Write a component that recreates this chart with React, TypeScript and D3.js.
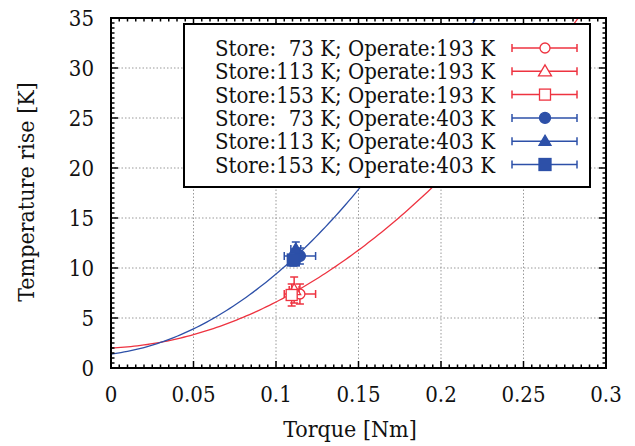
import React, { useEffect, useRef } from 'react';
import * as d3 from 'd3';

// measured points (torque, temperature rise) with error bars
const labels = [
  'Store:  73 K; Operate:193 K',
  'Store:113 K; Operate:193 K',
  'Store:153 K; Operate:193 K',
  'Store:  73 K; Operate:403 K',
  'Store:113 K; Operate:403 K',
  'Store:153 K; Operate:403 K',
];
const torque = [0.1145, 0.111, 0.1095, 0.1145, 0.112, 0.1105];
const torqueErr = [0.0095, 0.003, 0.003, 0.0095, 0.003, 0.003];
const tempRise = [7.4, 7.8, 7.3, 11.2, 11.9, 10.8];
const tempErr = [1.0, 1.3, 1.1, 0.8, 0.7, 0.6];
const shapes = ['circle', 'triangle', 'square', 'circle', 'triangle', 'square'];
const filled = [false, false, false, true, true, true];
const groups = [0, 0, 0, 1, 1, 1];

// fitted curves y = a + b*x + c*x^2 for operate 193 K / 403 K
const fitA = [2.0, 1.4];
const fitB = [7.5, 20.6];
const fitC = [385, 594];

const xTicks = [0, 0.05, 0.1, 0.15, 0.2, 0.25, 0.3];
const yTicks = [0, 5, 10, 15, 20, 25, 30, 35];

const colors = ['#ee3340', '#2d50a8'];
const fontA = "'DejaVu Serif Condensed'";
const fontB = "'DejaVu Serif'";

const App = () => {
  const ref = useRef<SVGSVGElement>(null);

  useEffect(() => {
    const svg = d3.select(ref.current);
    svg.selectAll('*').remove();

    const left = 111, right = 606, top = 18, bottom = 368;
    const x = d3.scaleLinear().domain([0, 0.3]).range([left, right]);
    const y = d3.scaleLinear().domain([0, 35]).range([bottom, top]);

    svg.append('rect').attr('width', 635).attr('height', 446).attr('fill', '#fff');

    const clip = svg.append('defs').append('clipPath').attr('id', 'plotclip');
    clip.append('rect').attr('x', left).attr('y', top).attr('width', right - left).attr('height', bottom - top);

    // grid
    const grid = svg.append('g').attr('stroke', '#999').attr('stroke-width', 1).attr('stroke-dasharray', '1.5 2');
    xTicks.slice(1, -1).forEach(t => {
      grid.append('line').attr('x1', x(t)).attr('x2', x(t)).attr('y1', top).attr('y2', bottom);
    });
    yTicks.slice(1, -1).forEach(t => {
      grid.append('line').attr('x1', left).attr('x2', right).attr('y1', y(t)).attr('y2', y(t));
    });

    // fit curves
    const plot = svg.append('g').attr('clip-path', 'url(#plotclip)');
    [0, 1].forEach(g => {
      const xs = d3.range(0, 0.3001, 0.002);
      const line = d3.line<number>()
        .x(d => x(d))
        .y(d => y(fitA[g] + fitB[g] * d + fitC[g] * d * d));
      plot.append('path').datum(xs).attr('d', line)
        .attr('fill', 'none').attr('stroke', colors[g]).attr('stroke-width', 1.3);
    });

    const drawMarker = (gEl: any, cx: number, cy: number, shape: string, col: string, fill: boolean) => {
      const f = fill ? col : '#fff';
      if (shape === 'circle') {
        gEl.append('circle').attr('cx', cx).attr('cy', cy).attr('r', fill ? 5.5 : 5)
          .attr('fill', f).attr('stroke', col).attr('stroke-width', 1.3);
      } else if (shape === 'triangle') {
        const s = fill ? 6 : 6.5;
        gEl.append('path')
          .attr('d', `M${cx},${cy - s}L${cx + s},${cy + s * 0.7}L${cx - s},${cy + s * 0.7}Z`)
          .attr('fill', f).attr('stroke', col).attr('stroke-width', 1.3);
      } else {
        const s = fill ? 6 : 5.5;
        gEl.append('rect').attr('x', cx - s).attr('y', cy - s).attr('width', 2 * s).attr('height', 2 * s)
          .attr('fill', f).attr('stroke', col).attr('stroke-width', 1.3);
      }
    };

    // data points with error bars
    const pts = svg.append('g');
    torque.forEach((tq, i) => {
      const col = colors[groups[i]];
      const cx = x(tq), cy = y(tempRise[i]);
      const g = pts.append('g').attr('stroke', col).attr('stroke-width', 1.5);
      const x0 = x(tq - torqueErr[i]), x1 = x(tq + torqueErr[i]);
      const y0 = y(tempRise[i] - tempErr[i]), y1 = y(tempRise[i] + tempErr[i]);
      g.append('line').attr('x1', x0).attr('x2', x1).attr('y1', cy).attr('y2', cy);
      g.append('line').attr('x1', x0).attr('x2', x0).attr('y1', cy - 4).attr('y2', cy + 4);
      g.append('line').attr('x1', x1).attr('x2', x1).attr('y1', cy - 4).attr('y2', cy + 4);
      g.append('line').attr('x1', cx).attr('x2', cx).attr('y1', y0).attr('y2', y1);
      g.append('line').attr('x1', cx - 4).attr('x2', cx + 4).attr('y1', y0).attr('y2', y0);
      g.append('line').attr('x1', cx - 4).attr('x2', cx + 4).attr('y1', y1).attr('y2', y1);
      drawMarker(g, cx, cy, shapes[i], col, filled[i]);
    });

    // ticks on all four sides, pointing inward
    const tk = svg.append('g').attr('stroke', '#000').attr('stroke-width', 1.5);
    const xMinor = d3.range(0, 0.3001, 0.005);
    const yMinor = d3.range(0, 35.001, 0.5);
    xMinor.forEach((t, i) => {
      const len = i % 10 === 0 ? 7 : 3.5;
      tk.append('line').attr('x1', x(t)).attr('x2', x(t)).attr('y1', bottom).attr('y2', bottom - len);
      tk.append('line').attr('x1', x(t)).attr('x2', x(t)).attr('y1', top).attr('y2', top + len);
    });
    yMinor.forEach((t, i) => {
      const len = i % 10 === 0 ? 7 : 3.5;
      tk.append('line').attr('x1', left).attr('x2', left + len).attr('y1', y(t)).attr('y2', y(t));
      tk.append('line').attr('x1', right).attr('x2', right - len).attr('y1', y(t)).attr('y2', y(t));
    });

    // frame
    svg.append('rect').attr('x', left).attr('y', top).attr('width', right - left).attr('height', bottom - top)
      .attr('fill', 'none').attr('stroke', '#000').attr('stroke-width', 2);

    // tick labels
    const tl = svg.append('g').style('font-family', fontA).style('font-size', '22px').attr('fill', '#111');
    xTicks.forEach(t => {
      tl.append('text').attr('x', x(t)).attr('y', 402).attr('text-anchor', 'middle').text(String(t));
    });
    yTicks.forEach(t => {
      tl.append('text').attr('x', 94).attr('y', y(t) + 8).attr('text-anchor', 'end').text(String(t));
    });

    // axis titles
    svg.append('text').attr('x', 350).attr('y', 437).attr('text-anchor', 'middle')
      .style('font-family', fontB).style('font-stretch', 'condensed').style('font-size', '23px').attr('fill', '#111').text('Torque [Nm]');
    svg.append('text').attr('transform', 'translate(34,192) rotate(-90)').attr('text-anchor', 'middle')
      .style('font-family', fontB).style('font-stretch', 'condensed').style('font-size', '23px').attr('fill', '#111').text('Temperature rise [K]');

    // legend
    const lg = svg.append('g');
    lg.append('rect').attr('x', 184).attr('y', 24).attr('width', 406).attr('height', 163)
      .attr('fill', '#fff').attr('stroke', '#000').attr('stroke-width', 2);
    labels.forEach((lab, i) => {
      const cy = 48 + i * 23.3;
      lg.append('text').attr('x', 495).attr('y', cy + 8).attr('text-anchor', 'end')
        .style('font-family', fontA).style('font-size', '22px').attr('fill', '#111')
        .style('white-space', 'pre').text(lab);
      const col = colors[groups[i]];
      const g = lg.append('g').attr('stroke', col).attr('stroke-width', 1.5);
      g.append('line').attr('x1', 512).attr('x2', 577).attr('y1', cy).attr('y2', cy);
      g.append('line').attr('x1', 512).attr('x2', 512).attr('y1', cy - 4).attr('y2', cy + 4);
      g.append('line').attr('x1', 577).attr('x2', 577).attr('y1', cy - 4).attr('y2', cy + 4);
      drawMarker(g, 545, cy, shapes[i], col, filled[i]);
    });
  }, []);

  return (
    <svg ref={ref} width={635} height={446}
      style={{ position: 'absolute', left: 0, top: 0, display: 'block' }} />
  );
};

export default App;
